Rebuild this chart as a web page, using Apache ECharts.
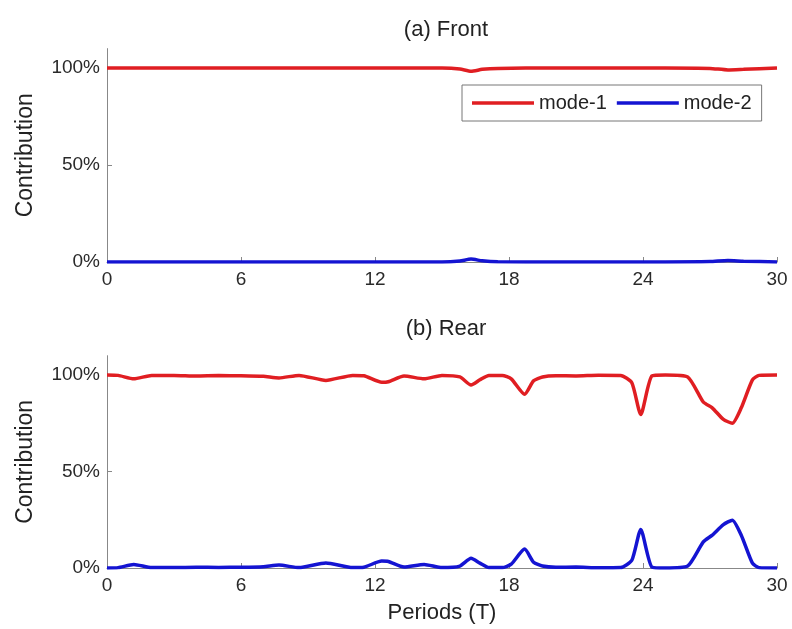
<!DOCTYPE html>
<html>
<head>
<meta charset="utf-8">
<script src="https://cdn.jsdelivr.net/npm/echarts@6/dist/echarts.min.js"></script>
<style>
  html, body { margin: 0; padding: 0; background: #fff; }
  #chart { width: 792px; height: 629px; }
</style>
</head>
<body>
<div id="chart"></div>
<script>
// front panel samples
const frontPeriods = [0, 5, 10, 15, 15.8, 16.3, 16.8, 17.5, 20, 25, 27, 27.8, 28.5, 30];
const frontMode1 = [100, 100, 100, 100, 99.5, 98.3, 99.3, 99.8, 100, 100, 99.8, 99, 99.3, 100];
const frontMode2 = [0, 0, 0, 0, 0.5, 1.5, 0.6, 0.1, 0, 0, 0.2, 0.8, 0.4, 0];

// rear panel samples
const rearPeriods = [0, 0.5, 1.2, 2, 3, 4, 5, 6, 7, 7.7, 8.6, 9.8, 11, 11.5, 12.3, 12.6, 13.3, 14.2, 15,
  15.8, 16.3, 16.7, 17.1, 17.7, 18.1, 18.7, 19.1, 19.5, 20.1, 21, 22, 23, 23.5, 23.9, 24.4, 25, 26,
  26.7, 27.1, 27.6, 28.0, 28.4, 28.9, 29.2, 30];
const rearMode1 = [100, 99.8, 98, 99.8, 99.8, 99.5, 99.7, 99.6, 99.3, 98.5, 99.8, 97.2, 99.8, 99.6, 96.2, 96.5, 99.5, 98, 99.8,
  99, 94.8, 97.5, 99.8, 99.8, 98, 90, 97, 99, 99.6, 99.5, 99.9, 99.8, 96, 79.5, 99.5, 100, 99,
  86, 83, 77, 75, 83, 97.5, 99.8, 100];
const rearMode2 = [0, 0.2, 1.8, 0.2, 0.2, 0.4, 0.3, 0.4, 0.7, 1.5, 0.2, 2.6, 0.2, 0.4, 3.6, 3.4, 0.5, 1.8, 0.2,
  1, 5, 2.5, 0.2, 0.2, 2, 9.8, 3, 1, 0.4, 0.5, 0.1, 0.2, 4, 20, 0.5, 0, 1,
  13.5, 17, 22.5, 24.8, 17, 2.5, 0.2, 0];

const yTicks = [0, 50, 100];

const RED = '#e01e22';
const BLUE = '#1414d2';
const FONT = '"Liberation Sans", Arial, sans-serif';

const pairs = (xs, ys) => xs.map((x, i) => [x, ys[i]]);

const chart = echarts.init(document.getElementById('chart'));

const xAxisBase = (gridIndex, withName) => ({
  type: 'value',
  gridIndex,
  min: 0,
  max: 30,
  interval: 6,
  name: withName ? 'Periods (T)' : '',
  nameLocation: 'middle',
  nameGap: 34,
  nameTextStyle: { fontFamily: FONT, fontSize: 22, color: '#222' },
  axisLine: { show: true, lineStyle: { color: '#888', width: 1 } },
  axisTick: { show: true, inside: true, length: 5, lineStyle: { color: '#888' } },
  axisLabel: { fontFamily: FONT, fontSize: 19, color: '#2a2a2a', margin: 8 },
  splitLine: { show: false }
});

const yAxisBase = (gridIndex) => ({
  type: 'value',
  gridIndex,
  min: 0,
  max: 110,
  name: 'Contribution',
  nameLocation: 'middle',
  nameGap: 70,
  nameTextStyle: { fontFamily: FONT, fontSize: 23, color: '#222' },
  axisLine: { show: true, lineStyle: { color: '#888', width: 1 } },
  axisTick: { show: true, inside: true, length: 5, customValues: yTicks, lineStyle: { color: '#888' } },
  axisLabel: {
    fontFamily: FONT, fontSize: 19, color: '#2a2a2a', margin: 7,
    customValues: yTicks,
    formatter: v => v + '%'
  },
  splitLine: { show: false }
});

const lineSeries = (name, color, data, idx) => ({
  name,
  type: 'line',
  xAxisIndex: idx,
  yAxisIndex: idx,
  data,
  symbol: 'none',
  smooth: 0.2,
  lineStyle: { color, width: 3.5 },
  itemStyle: { color },
  animation: false
});

const titleStyle = { fontFamily: FONT, fontSize: 22, fontWeight: 'normal', color: '#222' };

chart.setOption({
  backgroundColor: '#fff',
  animation: false,
  title: [
    { text: '(a) Front', left: 441, top: 14, textAlign: 'center', textStyle: titleStyle },
    { text: '(b) Rear', left: 441, top: 313, textAlign: 'center', textStyle: titleStyle }
  ],
  legend: {
    left: 462,
    top: 85,
    data: ['mode-1', 'mode-2'],
    icon: 'rect',
    itemWidth: 62,
    itemHeight: 3.5,
    itemGap: 10,
    padding: [8, 10],
    borderColor: '#777',
    borderWidth: 1,
    textStyle: { fontFamily: FONT, fontSize: 20, color: '#222' }
  },
  grid: [
    { left: 107, right: 15, top: 48.6, height: 213.4 },
    { left: 107, right: 15, top: 355.7, height: 212.3 }
  ],
  xAxis: [xAxisBase(0, false), xAxisBase(1, true)],
  yAxis: [yAxisBase(0), yAxisBase(1)],
  series: [
    lineSeries('mode-1', RED, pairs(frontPeriods, frontMode1), 0),
    lineSeries('mode-2', BLUE, pairs(frontPeriods, frontMode2), 0),
    lineSeries('mode-1', RED, pairs(rearPeriods, rearMode1), 1),
    lineSeries('mode-2', BLUE, pairs(rearPeriods, rearMode2), 1)
  ]
});
</script>
</body>
</html>
